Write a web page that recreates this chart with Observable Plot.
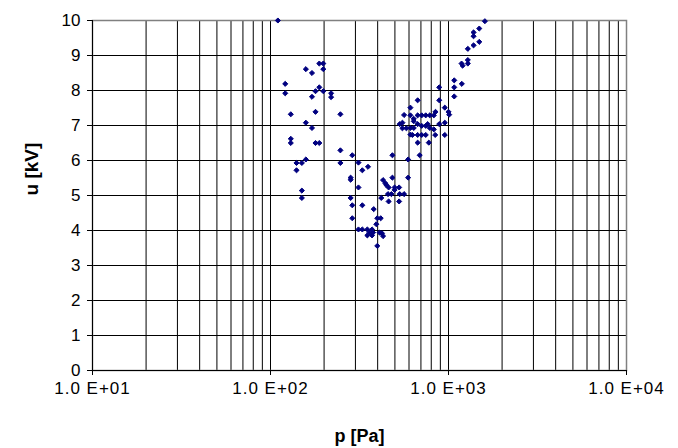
<!DOCTYPE html>
<html><head><meta charset="utf-8">
<script src="https://cdn.jsdelivr.net/npm/d3@7"></script>
<script src="https://cdn.jsdelivr.net/npm/@observablehq/plot@0.6"></script>
<style>
body{margin:0;background:#fff;}
svg{font-family:"Liberation Sans",Arial,sans-serif;}
g[aria-label="x-axis tick label"] text{letter-spacing:1px;}
</style></head><body><div id="chart"></div>
<script>
const pressure = [110,188,198,198,158,171,121,121,188,179,198,171,219,219,130,179,247,158,171,130,130,179,188,247,158,140,150,247,140,150,150,
563,532,551,551,580,611,288,484,312,353,328,282,282,429,484,442,461,498,528,312,593,447,498,457,478,532,563,419,282,461,528,288,328,380,288,398,416,393,312,328,350,372,360,377,410,423,350,372,429,398,
1601,1489,1383,1383,1489,1383,1284,1284,1284,1184,1200,1077,1077,1188,1077,887,887,671,611,953,1000,1009,845,611,671,707,745,785,827,638,638,887,953,611,638,671,707,745,764,785,827,627,671,707,745,842,953,671,775,689,593];
const voltage = [10.0,8.77,8.77,8.61,8.61,8.50,8.19,7.92,8.09,7.98,7.98,7.82,7.92,7.81,7.32,7.39,7.32,7.08,6.93,6.62,6.50,6.50,6.50,6.29,6.03,5.93,5.93,5.93,5.72,5.14,4.93,
7.30,7.04,7.08,6.92,6.92,6.74,6.15,6.15,5.94,5.82,5.72,5.51,5.45,5.44,5.51,5.35,5.23,5.23,5.23,5.23,5.51,5.30,5.16,5.04,5.04,5.04,5.04,4.93,4.93,4.83,4.83,4.72,4.72,4.61,4.35,4.35,4.35,4.18,4.03,4.03,4.03,4.03,3.94,3.94,3.94,3.92,3.86,3.86,3.84,3.56,
9.98,9.77,9.66,9.55,9.39,9.29,9.19,8.87,8.77,8.77,8.71,8.29,8.09,8.19,7.83,8.09,7.72,7.72,7.51,7.51,7.39,7.31,7.39,7.29,7.29,7.29,7.29,7.29,7.29,7.19,7.12,7.04,7.08,6.93,6.93,7.04,6.99,6.99,7.04,6.93,6.89,6.73,6.73,6.73,6.73,6.73,6.73,6.51,6.51,6.15,6.03];
const yTicks = [0,1,2,3,4,5,6,7,8,9,10];
const yGrid = [1,2,3,4,5,6,7,8,9];
const xMajorTicks = [10,100,1000,10000];
const xTickLabels = ["1.0 E+01","1.0 E+02","1.0 E+03","1.0 E+04"];
const xGrid = [20,30,40,50,60,70,80,90,100,200,300,400,500,600,700,800,900,1000,2000,3000,4000,5000,6000,7000,8000,9000];

const data = pressure.map((p,i)=>({p, u: voltage[i]}));
const chart = Plot.plot({
  width: 678, height: 448,
  marginLeft: 92, marginRight: 52, marginTop: 20, marginBottom: 78,
  style: {fontFamily: '"Liberation Sans", Arial, sans-serif', fontSize: "17px", color: "#000", background: "#fff"},
  x: {type: "log", domain: [10, 10000]},
  y: {domain: [0, 10]},
  marks: [
    Plot.ruleX(xGrid, {stroke: "#000", strokeWidth: 1}),
    Plot.ruleY(yGrid, {stroke: "#000", strokeWidth: 1}),
    Plot.frame({stroke: "#808080", strokeWidth: 1.5}),
    Plot.ruleX([10], {stroke: "#000"}),
    Plot.ruleY([0], {stroke: "#000"}),
    Plot.axisX({ticks: xMajorTicks, tickFormat: d => xTickLabels[xMajorTicks.indexOf(d)], tickSize: 5, tickPadding: 6, label: null, fontSize: 17}),
    Plot.axisY({ticks: yTicks, tickSize: 5, tickPadding: 7, label: null, fontSize: 17}),
    Plot.dot(data, {x: "p", y: "u", symbol: "diamond2", fill: "#000080", stroke: "#000080", strokeWidth: 1, r: 2.3}),
    Plot.text(["u [kV]"], {text: d => d, frameAnchor: "left", dx: -61, rotate: -90, fontWeight: "bold", fontSize: 19}),
    Plot.text(["p [Pa]"], {text: d => d, frameAnchor: "bottom", dy: 71, fontWeight: "bold", fontSize: 18})
  ]
});
document.getElementById("chart").appendChild(chart);
</script></body></html>
